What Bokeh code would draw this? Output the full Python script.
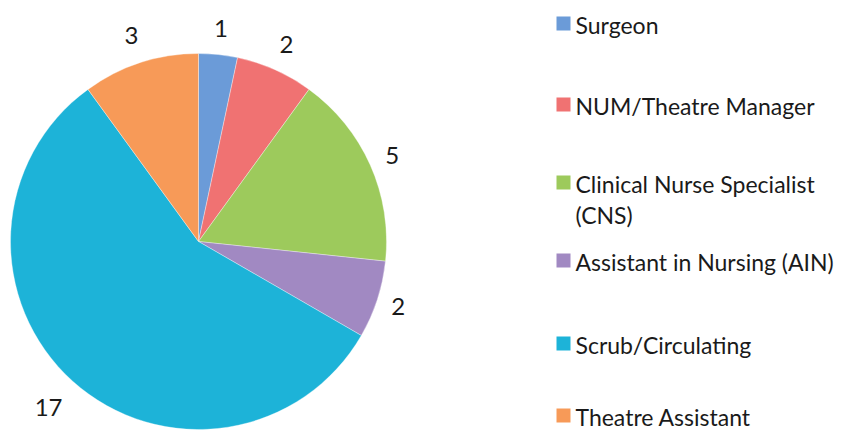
import numpy as np
from bokeh.plotting import figure
from bokeh.models import Range1d, ColumnDataSource
from bokeh.core.properties import value
from bokeh.embed import file_html
from bokeh.resources import INLINE

# ---- data ----
categories = ["Surgeon", "NUM/Theatre Manager", "Clinical Nurse Specialist\n(CNS)",
              "Assistant in Nursing (AIN)", "Scrub/Circulating", "Theatre Assistant"]
counts = [1, 2, 5, 2, 17, 3]
colors = ["#6b9bd8", "#f07272", "#9dca5c", "#a189c2", "#1db3d8", "#f79a58"]

# ---- layout (picture pixel coords -> data coords) ----
W, H = 842, 430
def px(x):
    return x
def py(y):
    return H - y

cx, cy, R = px(198), py(241), 188
FONT = "Lato"

p = figure(width=W, height=H, output_backend="svg", toolbar_location=None,
           x_range=Range1d(0, W), y_range=Range1d(0, H), min_border=0,
           background_fill_color="white", border_fill_color="white")
p.axis.visible = False
p.grid.visible = False
p.outline_line_color = None

vals = np.array(counts, dtype=float)
cum = np.concatenate([[0], np.cumsum(vals)])
frac = cum / cum[-1]
start = np.pi / 2 - frac[:-1] * 2 * np.pi
end = np.pi / 2 - frac[1:] * 2 * np.pi
mid = (start + end) / 2

src = ColumnDataSource(dict(start=start, end=end, color=colors))
p.wedge(x=cx, y=cy, radius=R, start_angle="start", end_angle="end",
        direction="clock", fill_color="color", line_color="white", line_alpha=0.35,
        line_width=1, source=src)

# data labels outside the slices
rl = np.array([214, 216, 212, 210, 224, 217])
lab = ColumnDataSource(dict(x=cx + rl * np.cos(mid), y=cy + rl * np.sin(mid),
                            t=[str(c) for c in counts]))
p.text(x="x", y="y", text="t", source=lab, text_align="center", text_baseline="middle",
       text_font=value(FONT), text_font_size="24px", text_color="#1a1a1a")

# legend (custom)
row_y = [24, 105, 183, 261, 344, 416]
sq_x, txt_x, line_gap = 563, 575, 31
p.rect(x=[px(sq_x)] * len(categories), y=[py(y - 1) for y in row_y], width=14, height=14,
       fill_color=colors, line_color=None)
tx, ty, tt = [], [], []
for lbl, y in zip(categories, row_y):
    for i, line in enumerate(lbl.split("\n")):
        tx.append(px(txt_x)); ty.append(py(y + i * line_gap)); tt.append(line)
p.text(x=tx, y=ty, text=tt, text_align="left", text_baseline="middle",
       text_font=value(FONT), text_font_size="23px", text_color="#1a1a1a")

open("out.html", "w").write(file_html(p, INLINE))
